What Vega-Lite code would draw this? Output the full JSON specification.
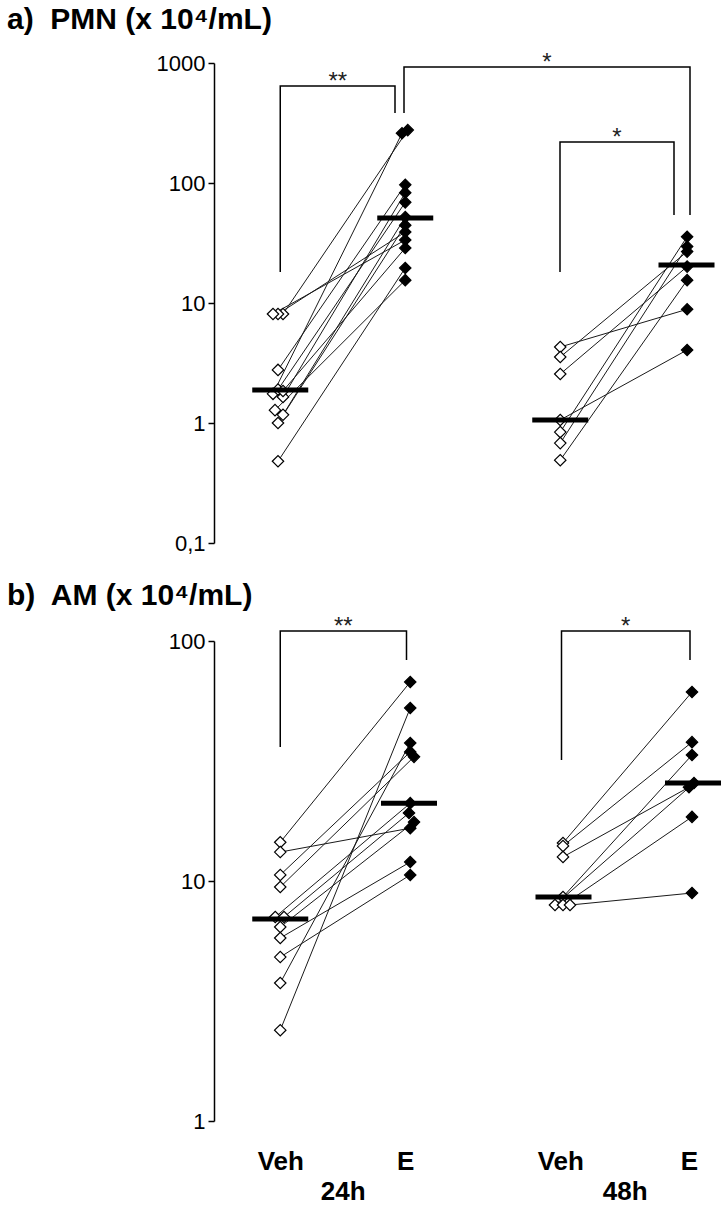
{
  "$schema": "https://vega.github.io/schema/vega-lite/v6.json",
  "padding": {"left": 7, "top": 5, "right": 5, "bottom": 5},
  "bounds": "flush",
  "spacing": 98,
  "config": {"view": {"stroke": null}, "font": "Liberation Sans"},
  "datasets": {
    "pts": [
      {"p":"a","id":"a1","g":"Veh","x":1.022,"v":8.1},{"p":"a","id":"a1","g":"E","x":2.02,"v":276},
      {"p":"a","id":"a2","g":"Veh","x":0.982,"v":8.1},{"p":"a","id":"a2","g":"E","x":2.0,"v":39},
      {"p":"a","id":"a3","g":"Veh","x":0.942,"v":8.1},{"p":"a","id":"a3","g":"E","x":2.0,"v":33.5},
      {"p":"a","id":"a4","g":"Veh","x":0.942,"v":1.75},{"p":"a","id":"a4","g":"E","x":1.974,"v":260},
      {"p":"a","id":"a5","g":"Veh","x":0.982,"v":2.77},{"p":"a","id":"a5","g":"E","x":2.0,"v":96.5},
      {"p":"a","id":"a6","g":"Veh","x":1.022,"v":1.65},{"p":"a","id":"a6","g":"E","x":2.0,"v":83},
      {"p":"a","id":"a7","g":"Veh","x":0.982,"v":1.9},{"p":"a","id":"a7","g":"E","x":2.0,"v":69},
      {"p":"a","id":"a8","g":"Veh","x":1.022,"v":1.17},{"p":"a","id":"a8","g":"E","x":2.0,"v":52},
      {"p":"a","id":"a9","g":"Veh","x":0.982,"v":1.0},{"p":"a","id":"a9","g":"E","x":2.0,"v":44.5},
      {"p":"a","id":"a10","g":"Veh","x":1.022,"v":1.85},{"p":"a","id":"a10","g":"E","x":2.0,"v":28.7},
      {"p":"a","id":"a11","g":"Veh","x":0.958,"v":1.28},{"p":"a","id":"a11","g":"E","x":2.0,"v":15.5},
      {"p":"a","id":"a12","g":"Veh","x":0.982,"v":0.48},{"p":"a","id":"a12","g":"E","x":2.0,"v":19.6},
      {"p":"a","id":"a13","g":"Veh","x":3.24,"v":4.3},{"p":"a","id":"a13","g":"E","x":4.255,"v":8.86},
      {"p":"a","id":"a14","g":"Veh","x":3.24,"v":3.55},{"p":"a","id":"a14","g":"E","x":4.255,"v":26.8},
      {"p":"a","id":"a15","g":"Veh","x":3.24,"v":2.56},{"p":"a","id":"a15","g":"E","x":4.255,"v":20.1},
      {"p":"a","id":"a16","g":"Veh","x":3.24,"v":1.06},{"p":"a","id":"a16","g":"E","x":4.255,"v":4.06},
      {"p":"a","id":"a17","g":"Veh","x":3.24,"v":0.84},{"p":"a","id":"a17","g":"E","x":4.255,"v":35.7},
      {"p":"a","id":"a18","g":"Veh","x":3.24,"v":0.68},{"p":"a","id":"a18","g":"E","x":4.255,"v":29.5},
      {"p":"a","id":"a19","g":"Veh","x":3.24,"v":0.49},{"p":"a","id":"a19","g":"E","x":4.255,"v":15.5},
      {"p":"b","id":"b1","g":"Veh","x":1.0,"v":14.5},{"p":"b","id":"b1","g":"E","x":2.04,"v":67.5},
      {"p":"b","id":"b2","g":"Veh","x":1.0,"v":13.2},{"p":"b","id":"b2","g":"E","x":2.04,"v":16.6},
      {"p":"b","id":"b3","g":"Veh","x":1.0,"v":10.6},{"p":"b","id":"b3","g":"E","x":2.04,"v":34.5},
      {"p":"b","id":"b4","g":"Veh","x":1.0,"v":9.44},{"p":"b","id":"b4","g":"E","x":2.07,"v":32.9},
      {"p":"b","id":"b5","g":"Veh","x":0.96,"v":7.08},{"p":"b","id":"b5","g":"E","x":2.04,"v":21.1},
      {"p":"b","id":"b6","g":"Veh","x":1.03,"v":7.08},{"p":"b","id":"b6","g":"E","x":2.03,"v":19.2},
      {"p":"b","id":"b7","g":"Veh","x":1.0,"v":6.43},{"p":"b","id":"b7","g":"E","x":2.07,"v":17.6},
      {"p":"b","id":"b8","g":"Veh","x":1.0,"v":5.79},{"p":"b","id":"b8","g":"E","x":2.04,"v":12.0},
      {"p":"b","id":"b9","g":"Veh","x":1.0,"v":4.82},{"p":"b","id":"b9","g":"E","x":2.04,"v":10.6},
      {"p":"b","id":"b10","g":"Veh","x":1.0,"v":3.76},{"p":"b","id":"b10","g":"E","x":2.04,"v":37.6},
      {"p":"b","id":"b11","g":"Veh","x":1.0,"v":2.39},{"p":"b","id":"b11","g":"E","x":2.04,"v":52.6},
      {"p":"b","id":"b12","g":"Veh","x":3.262,"v":14.4},{"p":"b","id":"b12","g":"E","x":4.294,"v":61.3},
      {"p":"b","id":"b13","g":"Veh","x":3.262,"v":14.0},{"p":"b","id":"b13","g":"E","x":4.294,"v":37.9},
      {"p":"b","id":"b14","g":"Veh","x":3.262,"v":12.6},{"p":"b","id":"b14","g":"E","x":4.27,"v":24.6},
      {"p":"b","id":"b15","g":"Veh","x":3.262,"v":8.58},{"p":"b","id":"b15","g":"E","x":4.294,"v":33.5},
      {"p":"b","id":"b16","g":"Veh","x":3.198,"v":7.94},{"p":"b","id":"b16","g":"E","x":4.31,"v":25.6},
      {"p":"b","id":"b17","g":"Veh","x":3.262,"v":7.94},{"p":"b","id":"b17","g":"E","x":4.294,"v":18.5},
      {"p":"b","id":"b18","g":"Veh","x":3.318,"v":7.94},{"p":"b","id":"b18","g":"E","x":4.294,"v":8.91}
    ],
    "med": [
      {"p":"a","x":1.0,"v":1.88},{"p":"a","x":2.0,"v":51},{"p":"a","x":3.24,"v":1.06},{"p":"a","x":4.25,"v":20.7},
      {"p":"b","x":1.0,"v":6.95},{"p":"b","x":2.03,"v":21.1},{"p":"b","x":3.266,"v":8.58},{"p":"b","x":4.302,"v":25.6}
    ],
    "br": [
      {"p":"a","b":"1","s":0,"x":1.0,"v":18.1},{"p":"a","b":"1","s":1,"x":1.0,"v":643},{"p":"a","b":"1","s":2,"x":1.918,"v":643},{"p":"a","b":"1","s":3,"x":1.918,"v":383},
      {"p":"a","b":"2","s":0,"x":1.99,"v":383},{"p":"a","b":"2","s":1,"x":1.99,"v":926},{"p":"a","b":"2","s":2,"x":4.278,"v":926},{"p":"a","b":"2","s":3,"x":4.278,"v":54.1},
      {"p":"a","b":"3","s":0,"x":3.238,"v":18.1},{"p":"a","b":"3","s":1,"x":3.238,"v":219.6},{"p":"a","b":"3","s":2,"x":4.15,"v":219.6},{"p":"a","b":"3","s":3,"x":4.15,"v":54.1},
      {"p":"b","b":"1","s":0,"x":1.0,"v":36.2},{"p":"b","b":"1","s":1,"x":1.0,"v":110},{"p":"b","b":"1","s":2,"x":2.01,"v":110},{"p":"b","b":"1","s":3,"x":2.01,"v":83.3},
      {"p":"b","b":"2","s":0,"x":3.25,"v":31.9},{"p":"b","b":"2","s":1,"x":3.25,"v":110},{"p":"b","b":"2","s":2,"x":4.278,"v":110},{"p":"b","b":"2","s":3,"x":4.278,"v":83.3}
    ],
    "ast": [
      {"p":"a","t":"**","x":1.46,"v":643},{"p":"a","t":"*","x":3.134,"v":926},{"p":"a","t":"*","x":3.694,"v":219.6},
      {"p":"b","t":"**","x":1.505,"v":110},{"p":"b","t":"*","x":3.764,"v":110}
    ]
  },
  "vconcat": [
    {
      "width": 500,
      "height": 480,
      "title": {"text": "a)\u00a0 PMN (x 10⁴/mL)", "anchor": "start", "frame": "group", "dx": -207, "fontSize": 30, "fontWeight": "bold", "font": "Liberation Sans", "color": "black", "offset": 16},
      "layer": [
        {
          "data": {"name": "br"},
          "transform": [{"filter": "datum.p == 'a'"}],
          "mark": {"type": "line", "stroke": "black", "strokeWidth": 1.5},
          "encoding": {
            "x": {"field": "x", "type": "quantitative", "scale": {"domain": [0.47, 4.47], "nice": false, "zero": false}, "axis": null},
            "y": {"field": "v", "type": "quantitative", "scale": {"type": "log", "domain": [0.1, 1000], "nice": false},
                  "axis": {"title": null, "values": [0.1, 1, 10, 100, 1000], "labelExpr": "datum.value < 0.5 ? '0,1' : format(datum.value, 'd')", "grid": false, "domainColor": "black", "domainWidth": 1.5, "tickColor": "black", "tickWidth": 1.5, "tickSize": 6, "labelFontSize": 22, "labelColor": "black", "labelPadding": 3, "labelFont": "Liberation Sans"}},
            "detail": {"field": "b"},
            "order": {"field": "s"}
          }
        },
        {
          "data": {"name": "pts"},
          "transform": [{"filter": "datum.p == 'a'"}],
          "mark": {"type": "line", "stroke": "#1a1a1a", "strokeWidth": 1},
          "encoding": {
            "x": {"field": "x", "type": "quantitative"},
            "y": {"field": "v", "type": "quantitative"},
            "detail": {"field": "id"}
          }
        },
        {
          "data": {"name": "pts"},
          "transform": [{"filter": "datum.p == 'a'"}],
          "mark": {"type": "point", "shape": "diamond", "filled": true, "size": 130, "stroke": "black", "strokeWidth": 1.2, "opacity": 1},
          "encoding": {
            "x": {"field": "x", "type": "quantitative"},
            "y": {"field": "v", "type": "quantitative"},
            "fill": {"field": "g", "type": "nominal", "scale": {"domain": ["Veh", "E"], "range": ["white", "black"]}, "legend": null}
          }
        },
        {
          "data": {"name": "med"},
          "transform": [{"filter": "datum.p == 'a'"}],
          "mark": {"type": "tick", "orient": "horizontal", "size": 56, "thickness": 5, "color": "black", "opacity": 1},
          "encoding": {
            "x": {"field": "x", "type": "quantitative"},
            "y": {"field": "v", "type": "quantitative"}
          }
        },
        {
          "data": {"name": "ast"},
          "transform": [{"filter": "datum.p == 'a'"}],
          "mark": {"type": "text", "fontSize": 24, "font": "Liberation Sans", "baseline": "alphabetic", "align": "center", "dy": 3, "color": "#222"},
          "encoding": {
            "x": {"field": "x", "type": "quantitative"},
            "y": {"field": "v", "type": "quantitative"},
            "text": {"field": "t"}
          }
        }
      ]
    },
    {
      "width": 500,
      "height": 480,
      "title": {"text": "b)\u00a0 AM (x 10⁴/mL)", "anchor": "start", "frame": "group", "dx": -207, "fontSize": 30, "fontWeight": "bold", "font": "Liberation Sans", "color": "black", "offset": 4},
      "layer": [
        {
          "data": {"name": "br"},
          "transform": [{"filter": "datum.p == 'b'"}],
          "mark": {"type": "line", "stroke": "black", "strokeWidth": 1.5},
          "encoding": {
            "x": {"field": "x", "type": "quantitative", "scale": {"domain": [0.47, 4.47], "nice": false, "zero": false},
                  "axis": {"title": null, "values": [1, 1.5, 2, 3.24, 3.755, 4.27], "labelExpr": "datum.value < 1.2 ? 'Veh' : datum.value < 1.8 ? ['', '24h'] : datum.value < 2.5 ? 'E' : datum.value < 3.5 ? 'Veh' : datum.value < 4 ? ['', '48h'] : 'E'", "domain": false, "ticks": false, "grid": false, "labelFontSize": 26, "labelFontWeight": "bold", "labelColor": "black", "labelPadding": 27, "labelLineHeight": 30, "labelOverlap": false, "labelBound": false, "labelFlush": false, "labelFont": "Liberation Sans"}},
            "y": {"field": "v", "type": "quantitative", "scale": {"type": "log", "domain": [1, 100], "nice": false},
                  "axis": {"title": null, "values": [1, 10, 100], "labelExpr": "format(datum.value, 'd')", "grid": false, "domainColor": "black", "domainWidth": 1.5, "tickColor": "black", "tickWidth": 1.5, "tickSize": 6, "labelFontSize": 22, "labelColor": "black", "labelPadding": 3, "labelFont": "Liberation Sans"}},
            "detail": {"field": "b"},
            "order": {"field": "s"}
          }
        },
        {
          "data": {"name": "pts"},
          "transform": [{"filter": "datum.p == 'b'"}],
          "mark": {"type": "line", "stroke": "#1a1a1a", "strokeWidth": 1},
          "encoding": {
            "x": {"field": "x", "type": "quantitative"},
            "y": {"field": "v", "type": "quantitative"},
            "detail": {"field": "id"}
          }
        },
        {
          "data": {"name": "pts"},
          "transform": [{"filter": "datum.p == 'b'"}],
          "mark": {"type": "point", "shape": "diamond", "filled": true, "size": 130, "stroke": "black", "strokeWidth": 1.2, "opacity": 1},
          "encoding": {
            "x": {"field": "x", "type": "quantitative"},
            "y": {"field": "v", "type": "quantitative"},
            "fill": {"field": "g", "type": "nominal", "scale": {"domain": ["Veh", "E"], "range": ["white", "black"]}, "legend": null}
          }
        },
        {
          "data": {"name": "med"},
          "transform": [{"filter": "datum.p == 'b'"}],
          "mark": {"type": "tick", "orient": "horizontal", "size": 56, "thickness": 5, "color": "black", "opacity": 1},
          "encoding": {
            "x": {"field": "x", "type": "quantitative"},
            "y": {"field": "v", "type": "quantitative"}
          }
        },
        {
          "data": {"name": "ast"},
          "transform": [{"filter": "datum.p == 'b'"}],
          "mark": {"type": "text", "fontSize": 24, "font": "Liberation Sans", "baseline": "alphabetic", "align": "center", "dy": 3, "color": "#222"},
          "encoding": {
            "x": {"field": "x", "type": "quantitative"},
            "y": {"field": "v", "type": "quantitative"},
            "text": {"field": "t"}
          }
        }
      ]
    }
  ]
}
